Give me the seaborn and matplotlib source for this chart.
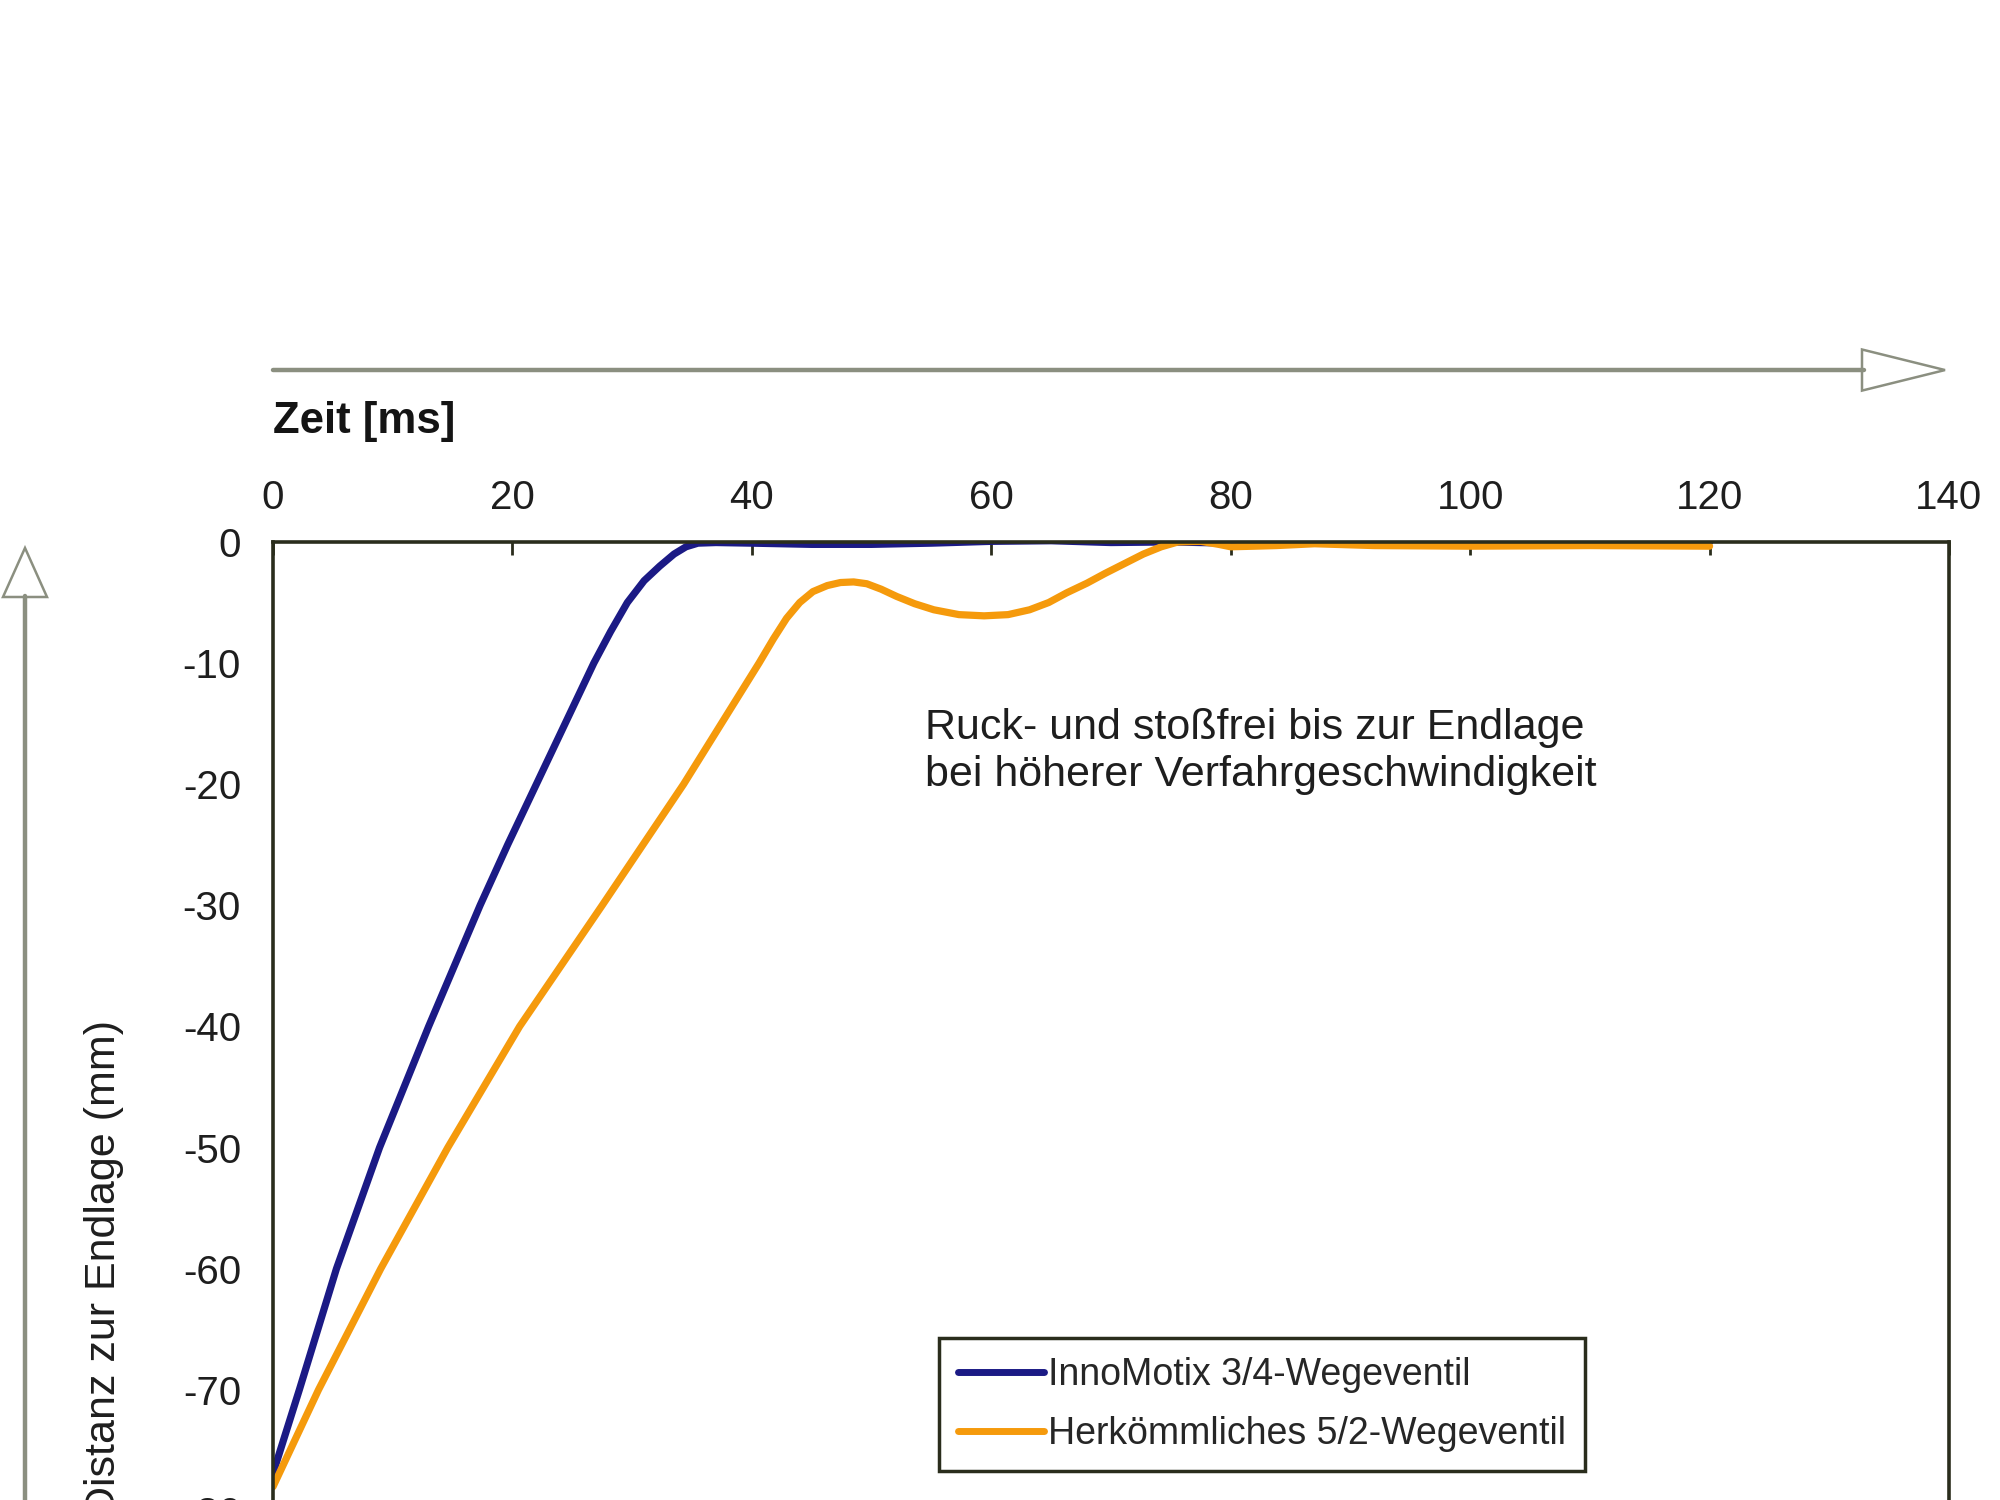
import numpy as np
import pandas as pd
import matplotlib
matplotlib.use("Agg")
import matplotlib.pyplot as plt
import seaborn as sns
from matplotlib.lines import Line2D
from matplotlib.patches import Polygon

# ---- data ----
blue_t = [0, 2.2, 5.3, 8.9, 13.0, 17.3, 19.6, 22.0, 24.4, 26.8, 28.2, 29.6, 31.0, 32.3,
          33.5, 34.5, 35.5, 37, 40, 45, 50, 55, 60, 65, 70, 75, 80, 90, 100, 110, 120]
blue_y = [-76.9, -70, -60, -50, -40, -30, -25, -20, -15, -10, -7.4, -5, -3.2, -2,
          -1, -0.4, -0.1, -0.05, -0.1, -0.2, -0.2, -0.1, 0.05, 0.1, -0.05, 0, -0.1, -0.05, -0.1, -0.05, 0]

orange_t = [0, 3.8, 9.0, 14.6, 20.6, 27.5, 34.3, 40.6, 41.8, 42.9, 44.0, 45.1, 46.3, 47.4,
            48.5, 49.6, 50.8, 52.1, 53.6, 55.2, 57.3, 59.4, 61.4, 63.2, 64.8, 66.3, 68.0,
            69.5, 71.1, 72.7, 74.2, 75.6, 77.5, 79.0, 80.0, 82.0, 83.8, 87.0, 92.0, 100, 110, 120]
orange_y = [-78, -70, -60, -50, -40, -30, -20, -10, -8, -6.3, -5.0, -4.1, -3.6, -3.35,
            -3.3, -3.45, -3.9, -4.5, -5.1, -5.6, -6.0, -6.1, -6.0, -5.6, -5.0, -4.2, -3.4,
            -2.6, -1.8, -1.0, -0.4, 0.0, 0.05, -0.2, -0.4, -0.35, -0.3, -0.15, -0.3, -0.35, -0.3, -0.35]

series_names = ["InnoMotix 3/4-Wegeventil", "Herkömmliches 5/2-Wegeventil"]
x_ticks = [0, 20, 40, 60, 80, 100, 120, 140]
y_ticks = [0, -10, -20, -30, -40, -50, -60, -70, -80]

df = pd.concat([
    pd.DataFrame({"t": blue_t, "y": blue_y, "s": series_names[0]}),
    pd.DataFrame({"t": orange_t, "y": orange_y, "s": series_names[1]}),
])

sns.set_theme(style="white")
plt.rcParams["font.family"] = ["Liberation Sans", "DejaVu Sans"]
plt.rcParams["axes.unicode_minus"] = False

fig = plt.figure(figsize=(20, 15), dpi=100)
ax = fig.add_axes([0.1365, -0.0073, 0.838, 0.646])

palette = {series_names[0]: "#1b1a85", series_names[1]: "#f59a0c"}
sns.lineplot(data=df, x="t", y="y", hue="s", palette=palette, sort=False,
             linewidth=5.2, ax=ax, legend=False)
for ln in ax.lines:
    ln.set_solid_joinstyle("round")
    ln.set_solid_capstyle("round")

dark = "#2a2d1c"
ax.set_xlim(0, 140)
ax.set_ylim(-80, 0)
ax.set_xticks(x_ticks)
ax.set_yticks(y_ticks)
ax.xaxis.tick_top()
ax.tick_params(axis="x", direction="in", length=9, width=2, color=dark,
               labelsize=29, labelcolor="#1e1e1e", pad=18)
ax.tick_params(axis="y", direction="out", length=9, width=2, color=dark,
               labelsize=29, labelcolor="#1e1e1e", pad=14)
ax.set_xlabel("")
ax.set_ylabel("")
for sp in ax.spines.values():
    sp.set_color(dark)
    sp.set_linewidth(2.6)
ax.grid(False)

# annotation
ax.text(54.5, -17.3, "Ruck- und stoßfrei bis zur Endlage\nbei höherer Verfahrgeschwindigkeit",
        ha="left", va="center", fontsize=31, color="#1e1e1e", linespacing=1.2)

# legend
handles = [Line2D([0], [0], color=palette[n], lw=5) for n in series_names]
leg = ax.legend(handles, series_names, loc="upper left",
                bbox_to_anchor=(0.4695, 0.108), bbox_transform=fig.transFigure,
                borderaxespad=0, fontsize=27, handlelength=2.3, handletextpad=0.12,
                labelspacing=0.62, borderpad=0.5, fancybox=False, framealpha=1,
                edgecolor=dark)
leg.get_frame().set_linewidth(2.5)

# axis labels
fig.text(0.1365, 0.719, "Zeit [ms]", ha="left", va="center", fontsize=31.5,
         fontweight="bold", color="#141414")
fig.text(0.052, 0.32, "Distanz zur Endlage (mm)", rotation=90, ha="center", va="top",
         fontsize=31, color="#1e1e1e")

# arrows
gray = "#8b8f80"
fig.add_artist(Line2D([0.1365, 0.932], [0.7533, 0.7533], color=gray, lw=3.2,
                      transform=fig.transFigure))
fig.add_artist(Polygon([[0.931, 0.7533 + 0.0137], [0.9725, 0.7533], [0.931, 0.7533 - 0.0137]],
                       closed=True, facecolor="white", edgecolor=gray, lw=1.8,
                       transform=fig.transFigure))
fig.add_artist(Line2D([0.0125, 0.0125], [0.0, 0.603], color=gray, lw=3.2,
                      transform=fig.transFigure))
fig.add_artist(Polygon([[0.0125 - 0.011, 0.602], [0.0125, 0.6347], [0.0125 + 0.011, 0.602]],
                       closed=True, facecolor="white", edgecolor=gray, lw=1.8,
                       transform=fig.transFigure))

fig.savefig("out.png", dpi=100)
